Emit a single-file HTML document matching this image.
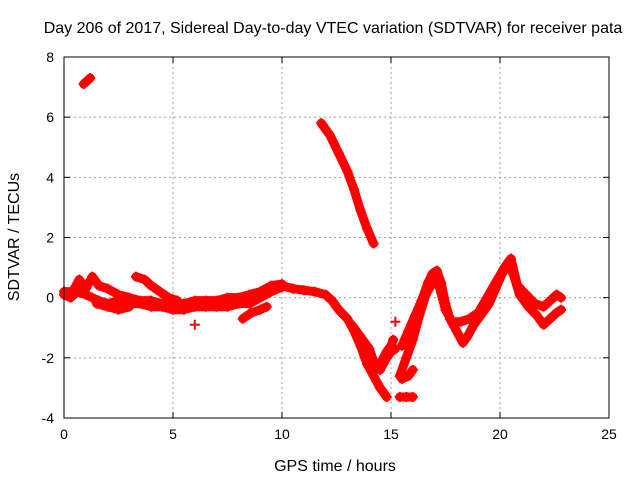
<!DOCTYPE html>
<html><head><meta charset="utf-8"><style>
body{margin:0;background:#fff;}
svg{display:block;font-family:"Liberation Sans",sans-serif;}
</style></head><body>
<svg id="chart" width="640" height="480">
<text x="333" y="33" text-anchor="middle" font-size="16">Day 206 of 2017, Sidereal Day-to-day VTEC variation (SDTVAR) for receiver pata</text>
<text x="335" y="471" text-anchor="middle" font-size="16">GPS time / hours</text>
<text transform="translate(19,237) rotate(-90)" text-anchor="middle" font-size="16">SDTVAR / TECUs</text>
<g id="grid"></g><g id="ticks"></g><g id="marks"></g>
<rect x="64" y="57" width="545" height="361" fill="none" stroke="#000" stroke-width="1"/>
</svg>
<script>
const xTicks=[0,5,10,15,20,25];
const yTicks=[-4,-2,0,2,4,6,8];
const trackBase=[[0,0.1],[0.3,0.0],[0.6,0.2],[1.0,0.1],[1.3,0.0],[1.6,-0.1],[2.0,-0.2],[2.5,-0.1],[3.0,-0.2],[3.5,-0.2],[4.0,-0.3],[4.5,-0.3],[5.0,-0.4],[5.5,-0.4],[6.0,-0.3],[6.5,-0.3],[7.0,-0.3],[7.5,-0.3],[8.0,-0.2],[8.5,-0.2],[9.0,0.0],[9.5,0.2],[10.0,0.35]];
const trackUpper=[[0.0,0.2],[0.4,0.2],[0.7,0.6],[1.0,0.3],[1.3,0.7],[1.6,0.4],[2.0,0.3],[2.5,0.1],[3.0,0.0],[3.5,-0.1],[4.0,-0.1],[4.5,-0.2],[5.0,-0.2],[5.5,-0.2],[6.0,-0.1],[6.5,-0.1],[7.0,-0.1],[7.5,0.0],[8.0,0.0],[8.5,0.1],[9.0,0.2],[9.5,0.4],[10.0,0.45]];
const trackArc=[[3.3,0.7],[3.7,0.6],[4.0,0.4],[4.4,0.2],[4.8,0.0],[5.2,-0.1]];
const trackLow=[[1.5,-0.2],[2.0,-0.3],[2.5,-0.4],[3.0,-0.3]];
const trackHump=[[8.2,-0.7],[8.6,-0.5],[9.0,-0.4],[9.3,-0.3]];
const trackIso=[[6.0,-0.9]];
const trackTop=[[0.9,7.1],[1.05,7.2],[1.2,7.3]];
const trackDiag=[[11.8,5.8],[12.2,5.4],[12.6,4.8],[13.0,4.2],[13.3,3.6],[13.6,2.9],[13.9,2.3],[14.2,1.8]];
const trackEve=[[10.0,0.4],[10.5,0.3],[11.0,0.25],[11.5,0.2],[12.0,0.1],[12.3,-0.1],[12.6,-0.4],[13.0,-0.7],[13.3,-1.1],[13.6,-1.6],[13.9,-2.2],[14.2,-2.6],[14.5,-3.0],[14.8,-3.3]];
const trackEve2=[[13.2,-0.9],[13.6,-1.3],[14.0,-1.7],[14.3,-2.3],[14.5,-2.2],[14.8,-1.8],[15.0,-1.6],[15.1,-1.4]];
const trackRise=[[14.5,-2.4],[14.8,-2.0],[15.0,-1.8],[15.2,-1.7]];
const trackMorn=[[15.5,-1.6],[15.8,-1.1],[16.1,-0.6],[16.4,-0.1],[16.7,0.5],[16.9,0.8],[17.1,0.9],[17.3,0.5],[17.5,-0.2],[17.7,-0.7],[18.0,-1.1],[18.3,-1.5],[18.5,-1.3],[18.8,-0.9],[19.1,-0.6],[19.5,-0.2],[19.8,0.3],[20.1,0.8],[20.4,1.2],[20.6,0.8],[20.9,0.1],[21.3,-0.3],[21.7,-0.6],[22.0,-0.9],[22.3,-0.7],[22.6,-0.5],[22.8,-0.4]];
const trackMorn2=[[15.4,-2.6],[15.7,-2.0],[16.0,-1.4],[16.3,-0.6],[16.6,0.1],[16.9,0.5],[17.2,0.4],[17.5,-0.4],[17.8,-0.8],[18.2,-0.8],[18.6,-0.7],[19.0,-0.5],[19.4,0.0],[19.8,0.5],[20.2,1.0],[20.5,1.3],[20.8,0.4],[21.2,0.1],[21.6,-0.2],[22.0,-0.3],[22.3,-0.1],[22.6,0.1],[22.8,0.0]];
const trackFlat1=[[15.4,-3.3],[15.7,-3.3],[16.0,-3.3]];
const trackFlat2=[[15.5,-2.7],[15.8,-2.6],[16.0,-2.4]];
const trackIso2=[[15.2,-0.8]];
const tracks=[trackBase,trackUpper,trackArc,trackLow,trackHump,trackIso,trackTop,trackDiag,trackEve,trackEve2,trackRise,trackMorn,trackMorn2,trackFlat1,trackFlat2,trackIso2];

const NS="http://www.w3.org/2000/svg";
const X0=64,X1=609,Y0=418,Y1=57;
const xs=t=>X0+(t-0)/(25-0)*(X1-X0);
const ys=v=>Y0-(v+4)/(12)*(Y0-Y1);
function mk(tag,attrs,parent){const e=document.createElementNS(NS,tag);for(const k in attrs)e.setAttribute(k,attrs[k]);parent.appendChild(e);return e;}
const grid=document.getElementById('grid'),ticks=document.getElementById('ticks'),marks=document.getElementById('marks');
xTicks.forEach(t=>{
  const x=xs(t);
  if(t>0&&t<25){const g=mk('line',{x1:x,x2:x,y1:Y1,y2:Y0,stroke:'#a0a0a0','stroke-dasharray':'2,3'},grid);
  
  }
  mk('line',{x1:x,x2:x,y1:Y0,y2:Y0-6,stroke:'#000'},ticks);
  mk('line',{x1:x,x2:x,y1:Y1,y2:Y1+6,stroke:'#000'},ticks);
  const l=mk('text',{x:x,y:Y0+21,'text-anchor':'middle','font-size':'14'},ticks);l.textContent=t;
  
  
});
yTicks.forEach(v=>{
  const y=ys(v);
  if(v>-4&&v<8){const g=mk('line',{x1:X0,x2:X1,y1:y,y2:y,stroke:'#a0a0a0','stroke-dasharray':'2,3'},grid);
  
  }
  mk('line',{x1:X0,x2:X0+6,y1:y,y2:y,stroke:'#000'},ticks);
  mk('line',{x1:X1,x2:X1-6,y1:y,y2:y,stroke:'#000'},ticks);
  const l=mk('text',{x:X0-10,y:y+5,'text-anchor':'end','font-size':'14'},ticks);l.textContent=v;
  
  
});
tracks.forEach(tr=>{
  if(tr.length>1){
    const p=mk('polyline',{points:tr.map(d=>xs(d[0])+','+ys(d[1])).join(' '),fill:'none',stroke:'#f00','stroke-width':'9','stroke-linejoin':'round','stroke-linecap':'round'},marks);
    
    
  }
  tr.forEach(d=>{
    const x=xs(d[0]),y=ys(d[1]);
    const m=mk('path',{d:`M${x-5},${y}H${x+5}M${x},${y-5}V${y+5}`,stroke:'#f00','stroke-width':'2'},marks);
    
    
  });
});
</script>
</body></html>
